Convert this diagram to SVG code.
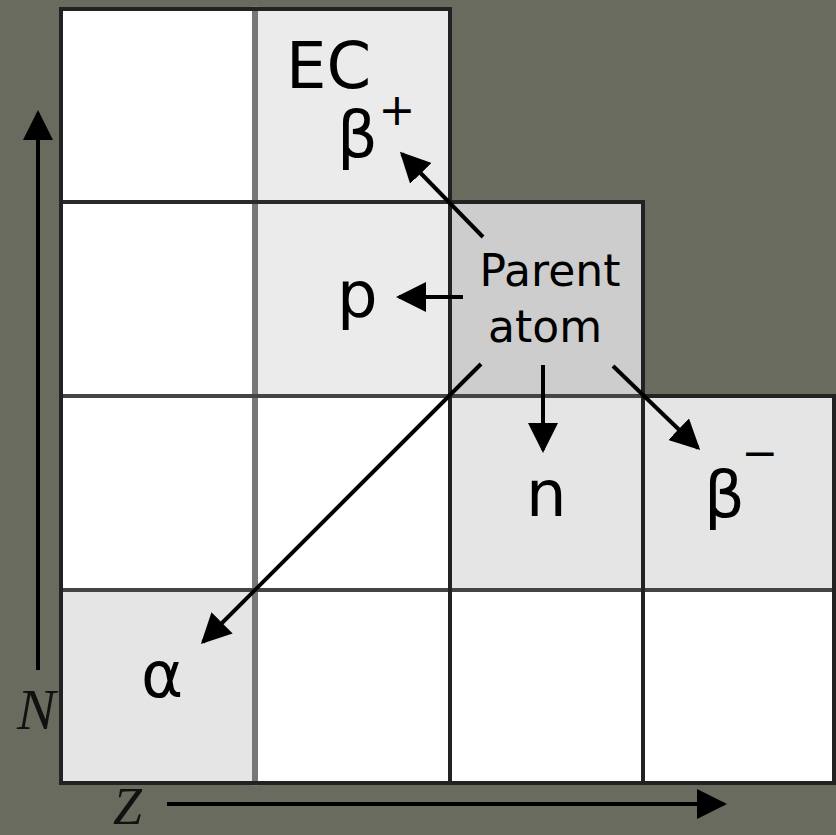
<svg xmlns="http://www.w3.org/2000/svg" width="836" height="835" viewBox="0 0 836 835">
  <style>
    .lbl { font-family: "DejaVu Sans", "Liberation Sans", sans-serif; fill: #000; }
    .big { font-size: 64px; }
    .sup { font-size: 44px; }
    .small { font-size: 44px; }
    .axis { font-family: "Liberation Serif", "DejaVu Serif", serif; font-style: italic; font-size: 58px; fill: #111; }
    .axz { font-size: 52px; }
    .arr { stroke: #000; stroke-width: 4; fill: none; marker-end: url(#head); }
    .grid { fill: none; stroke-linecap: square; }
  </style>
  <defs>
    <marker id="head" viewBox="0 0 10 10" refX="9" refY="5" markerWidth="7.5" markerHeight="7.5" orient="auto" markerUnits="strokeWidth">
      <path d="M0,0 L10,5 L0,10 Z" fill="#000"/>
    </marker>
  </defs>
  <rect x="0" y="0" width="836" height="835" fill="#696b5e"/>

  <g id="cells">
    <rect x="61" y="9" width="194" height="193" fill="#ffffff"/>
    <rect x="61" y="202" width="194" height="194" fill="#ffffff"/>
    <rect x="61" y="396" width="194" height="194" fill="#ffffff"/>
    <rect x="255" y="396" width="195" height="194" fill="#ffffff"/>
    <rect x="255" y="590" width="195" height="193" fill="#ffffff"/>
    <rect x="450" y="590" width="193" height="193" fill="#ffffff"/>
    <rect x="643" y="590" width="191" height="193" fill="#ffffff"/>
  </g>

  <g id="node-ec">
    <rect x="255" y="9" width="195" height="193" fill="#ebebeb"/>
    <text class="lbl big" x="286" y="88">EC</text>
    <text class="lbl big" x="337" y="157">β</text>
    <text class="lbl sup" x="397" y="125" text-anchor="middle">+</text>
  </g>
  <g id="node-p">
    <rect x="255" y="202" width="195" height="194" fill="#ebebeb"/>
    <text class="lbl big" x="337" y="317">p</text>
  </g>
  <g id="node-parent">
    <rect x="450" y="202" width="193" height="194" fill="#cdcdcd"/>
    <text class="lbl small" x="550" y="286" text-anchor="middle">Parent</text>
    <text class="lbl small" x="545" y="342" text-anchor="middle">atom</text>
  </g>
  <g id="node-n">
    <rect x="450" y="396" width="193" height="194" fill="#e5e5e5"/>
    <text class="lbl big" x="526" y="516">n</text>
  </g>
  <g id="node-beta-minus">
    <rect x="643" y="396" width="191" height="194" fill="#e5e5e5"/>
    <text class="lbl big" x="704" y="517">β</text>
    <text class="lbl sup" x="760" y="468" text-anchor="middle">−</text>
  </g>
  <g id="node-alpha">
    <rect x="61" y="590" width="194" height="193" fill="#e5e5e5"/>
    <text class="lbl big" x="141" y="697">α</text>
  </g>

  <g id="grid">
    <line class="grid" x1="255" y1="9" x2="255" y2="783" stroke="#777777" stroke-width="6"/>
    <line class="grid" x1="61" y1="202" x2="450" y2="202" stroke="#2a2a2a" stroke-width="4"/>
    <line class="grid" x1="61" y1="396" x2="643" y2="396" stroke="#444444" stroke-width="4"/>
    <line class="grid" x1="61" y1="590" x2="834" y2="590" stroke="#444444" stroke-width="4"/>
    <line class="grid" x1="450" y1="202" x2="450" y2="783" stroke="#222222" stroke-width="4"/>
    <line class="grid" x1="643" y1="396" x2="643" y2="783" stroke="#222222" stroke-width="4"/>
    <path class="grid" d="M61,9 L450,9 L450,202 L643,202 L643,396 L834,396 L834,783 L61,783 Z" stroke="#222222" stroke-width="4"/>
  </g>

  <g id="connectors">
    <line class="arr" x1="483" y1="237" x2="402" y2="154"/>
    <line class="arr" x1="463" y1="297" x2="399" y2="297"/>
    <line class="arr" x1="543" y1="365" x2="543" y2="450"/>
    <line class="arr" x1="613" y1="366" x2="698" y2="448"/>
    <line class="arr" x1="481" y1="364" x2="203" y2="642"/>
    <line class="arr" x1="38" y1="670" x2="38" y2="113" stroke="#111"/>
    <line class="arr" x1="167" y1="804" x2="724" y2="804" stroke="#111"/>
  </g>

  <g id="axes">
    <text class="axis" x="17" y="729">N</text>
    <text class="axis axz" x="113" y="824">Z</text>
  </g>
</svg>
